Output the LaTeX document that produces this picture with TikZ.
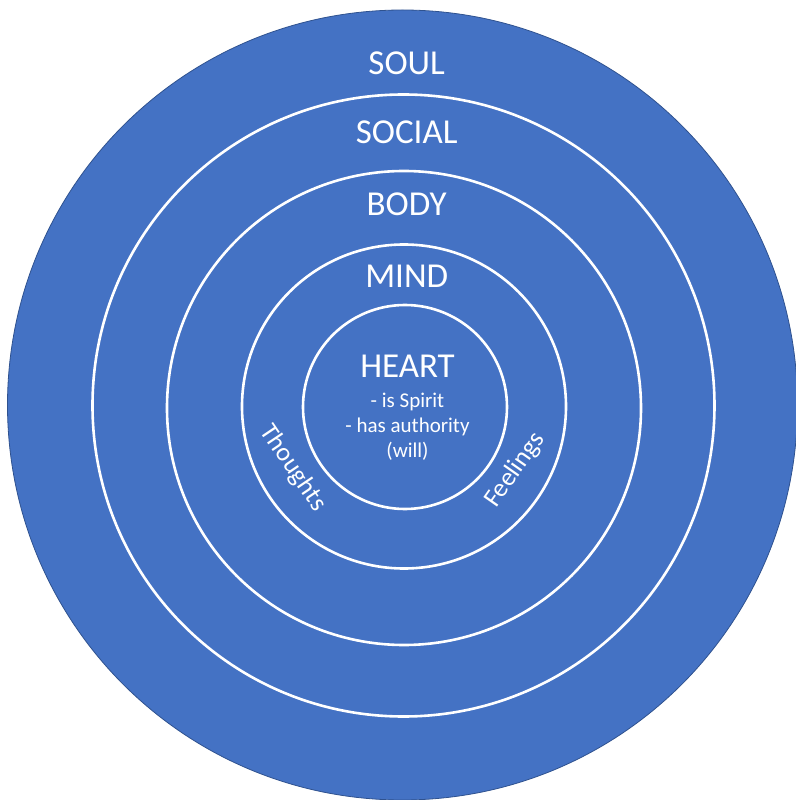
\documentclass[tikz,border=0pt]{standalone}
\usepackage{fontspec}
\setmainfont{Carlito}
\usepackage{tikz}
\usetikzlibrary{positioning}
\definecolor{ringblue}{HTML}{4472C4}
\definecolor{edgeblue}{HTML}{2F528F}

\begin{document}
\begin{tikzpicture}[x=1pt, y=1pt, every node/.style={text=white, inner sep=0pt}, node distance=4pt,
    ring/.style={draw=white, circle, line width=2.6pt},
    big/.style={font=\fontsize{35}{42}\selectfont},
    small/.style={font=\fontsize{21}{25}\selectfont},
    side/.style={font=\fontsize{26}{30}\selectfont}]
    \useasboundingbox (-404,-393) rectangle (391,407);

    % Soul (outer disc)
    \node[circle, fill=ringblue, draw=edgeblue, line width=0.8pt, minimum size=790pt] (soul) at (-1.5,2) {};

    % Rings
    \node[ring, minimum size=622pt] (social) at (-0.5,1.5) {};
    \node[ring, minimum size=474pt] (body) at (0,-1) {};
    \node[ring, minimum size=324pt] (mind) at (0,0.5) {};
    \node[ring, minimum size=204pt] (heart) at (1,0) {};

    % Labels
    \node[big] (soultext) at (2.7,343.5) {SOUL};
    \node[big] (socialtext) at (2.7,274.5) {SOCIAL};
    \node[big] (bodytext) at (2.7,202.5) {BODY};
    \node[big] (mindtext) at (2.7,131) {MIND};
    \node[big] (hearttext) at (3.5,40.5) {HEART};
    \node[small, align=center, anchor=north, below=15pt of hearttext] (heartnotes) {- is Spirit\\- has authority\\(will)};

    % Thoughts and feelings
    \node[side, rotate=-56] (thoughts) at (-111,-61) {Thoughts};
    \node[side, rotate=55] (feelings) at (111,-63) {Feelings};
\end{tikzpicture}
\end{document}
